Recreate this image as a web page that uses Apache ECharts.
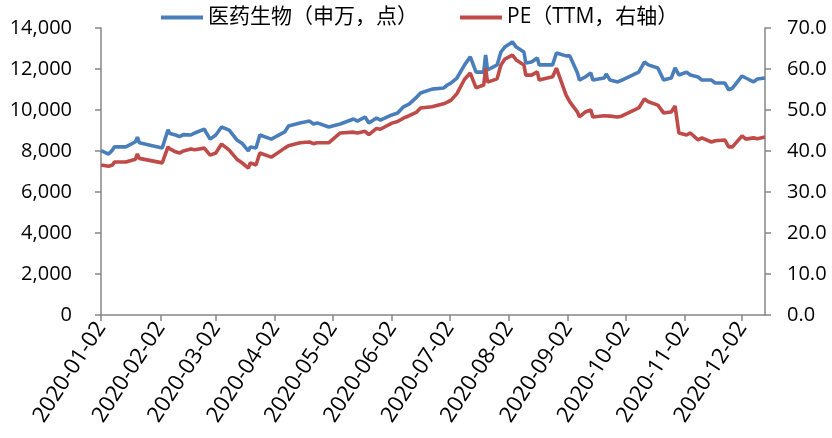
<!DOCTYPE html>
<html>
<head>
<meta charset="utf-8">
<script src="https://cdn.jsdelivr.net/npm/echarts@6/dist/echarts.min.js"></script>
<style>html,body{margin:0;padding:0;background:#fff;}#c{width:832px;height:438px;}</style>
</head>
<body>
<div id="c"></div>
<script>
const dates = ['2020-01-02','2020-01-06','2020-01-08','2020-01-09','2020-01-15','2020-01-20','2020-01-21','2020-01-22','2020-01-23','2020-02-03','2020-02-06','2020-02-07','2020-02-10','2020-02-12','2020-02-14','2020-02-18','2020-02-20','2020-02-25','2020-02-26','2020-02-28','2020-03-02','2020-03-05','2020-03-09','2020-03-13','2020-03-16','2020-03-19','2020-03-20','2020-03-23','2020-03-25','2020-03-31','2020-04-07','2020-04-09','2020-04-10','2020-04-15','2020-04-20','2020-04-22','2020-04-24','2020-04-30','2020-05-06','2020-05-13','2020-05-15','2020-05-19','2020-05-21','2020-05-25','2020-05-27','2020-06-02','2020-06-05','2020-06-08','2020-06-11','2020-06-15','2020-06-17','2020-06-23','2020-06-29','2020-07-01','2020-07-03','2020-07-06','2020-07-10','2020-07-13','2020-07-14','2020-07-16','2020-07-20','2020-07-21','2020-07-22','2020-07-27','2020-07-29','2020-07-31','2020-08-04','2020-08-06','2020-08-10','2020-08-11','2020-08-14','2020-08-17','2020-08-18','2020-08-25','2020-08-27','2020-08-28','2020-09-01','2020-09-03','2020-09-07','2020-09-08','2020-09-11','2020-09-14','2020-09-15','2020-09-21','2020-09-22','2020-09-24','2020-09-28','2020-09-30','2020-10-09','2020-10-12','2020-10-14','2020-10-19','2020-10-22','2020-10-26','2020-10-28','2020-10-30','2020-11-03','2020-11-05','2020-11-09','2020-11-11','2020-11-16','2020-11-18','2020-11-23','2020-11-25','2020-11-27','2020-12-02','2020-12-04','2020-12-08','2020-12-10','2020-12-14'];

const indexValues = [8020,7850,8050,8200,8200,8450,8680,8400,8350,8150,9030,8850,8780,8700,8800,8780,8880,9070,8900,8580,8780,9170,9020,8540,8350,8000,8200,8150,8780,8580,8930,9220,9220,9370,9460,9320,9370,9170,9320,9560,9460,9660,9370,9610,9510,9760,9850,10150,10290,10630,10830,11020,11070,11220,11320,11560,12200,12590,12590,11850,11850,12680,11950,12200,12830,13070,13320,13070,12830,12290,12340,12540,12200,12200,12780,12700,12640,12640,11800,11460,11610,11800,11460,11560,11760,11460,11370,11450,11850,12340,12200,12050,11460,11560,12050,11710,11850,11710,11610,11460,11460,11320,11320,10980,11070,11660,11560,11370,11510,11560];

const peValues = [36.6,36.3,36.6,37.3,37.3,38.0,39.3,38.2,38.0,37.1,41.0,40.5,39.8,39.5,40.0,40.5,40.3,40.7,40.3,39.0,39.5,41.7,40.2,38.0,37.0,35.8,37.1,36.6,39.5,38.5,40.7,41.3,41.0,42.0,42.2,41.8,42.0,42.0,44.4,44.6,44.4,44.8,44.0,45.5,45.3,46.8,47.2,48.0,48.6,49.5,50.5,50.8,51.5,51.9,52.4,54.0,57.5,59.0,59.0,55.4,56.1,60.2,56.8,57.6,61.0,62.4,63.4,62.2,61.0,58.5,58.5,59.3,57.3,58.1,60.2,60.2,53.7,52.0,49.5,48.3,49.5,50.0,48.3,48.6,49.0,48.5,48.3,48.5,50.5,52.7,52.0,51.2,49.3,49.5,51.0,44.4,43.9,44.4,42.7,43.2,42.2,42.5,42.7,41.0,41.0,43.7,42.9,43.2,43.0,43.4];

const tickLabels = ['2020-01-02','2020-02-02','2020-03-02','2020-04-02','2020-05-02','2020-06-02','2020-07-02','2020-08-02','2020-09-02','2020-10-02','2020-11-02','2020-12-02'];

const seriesNames = ['医药生物（申万，点）', 'PE（TTM，右轴）'];

// calendar-day category axis from first to last date
const axisDays = [];
(function () {
  const pad = n => (n < 10 ? '0' : '') + n;
  let d = new Date(Date.UTC(2020, 0, 2));
  const end = new Date(Date.UTC(2020, 11, 14));
  while (d <= end) {
    axisDays.push(d.getUTCFullYear() + '-' + pad(d.getUTCMonth() + 1) + '-' + pad(d.getUTCDate()));
    d = new Date(d.getTime() + 86400000);
  }
})();
const dayIndex = {};
axisDays.forEach((s, i) => { dayIndex[s] = i; });
const tickSet = new Set(tickLabels);

const font = '"Open Sans", "Noto Sans CJK SC", sans-serif';
const axisColor = '#868686';
const chart = echarts.init(document.getElementById('c'), null, { renderer: 'canvas' });
chart.setOption({
  animation: false,
  backgroundColor: '#fff',
  textStyle: { fontFamily: font },
  grid: { left: 101, right: 67, top: 28, bottom: 123, outerBoundsMode: 'none' },
  legend: [
    { data: [seriesNames[0]], left: 161, top: 7, padding: 0, icon: 'rect', itemWidth: 42, itemHeight: 4,
      textStyle: { fontSize: 21, color: '#000', fontFamily: font } },
    { data: [seriesNames[1]], left: 460, top: 7, padding: 0, icon: 'rect', itemWidth: 42, itemHeight: 4,
      textStyle: { fontSize: 21, color: '#000', fontFamily: font } }
  ],
  xAxis: {
    type: 'category',
    data: axisDays,
    boundaryGap: false,
    axisLine: { lineStyle: { color: axisColor, width: 1.5 } },
    axisTick: { show: true, length: 6, lineStyle: { color: axisColor, width: 1.5 },
      interval: (i, v) => tickSet.has(v) },
    axisLabel: { interval: (i, v) => tickSet.has(v), rotate: 57, margin: 9,
      fontSize: 22, color: '#000', fontFamily: font },
    splitLine: { show: false }
  },
  yAxis: [
    { type: 'value', min: 0, max: 14000, interval: 2000, position: 'left',
      axisLine: { show: true, lineStyle: { color: axisColor, width: 1.5 } },
      axisTick: { show: true, length: 6, lineStyle: { color: axisColor, width: 1.5 } },
      axisLabel: { margin: 29, fontSize: 20, color: '#000', fontFamily: font,
        formatter: v => v.toLocaleString('en-US') },
      splitLine: { show: false } },
    { type: 'value', min: 0, max: 70, interval: 10, position: 'right',
      axisLine: { show: true, lineStyle: { color: axisColor, width: 1.5 } },
      axisTick: { show: true, length: 6, lineStyle: { color: axisColor, width: 1.5 } },
      axisLabel: { margin: 22, fontSize: 20, color: '#000', fontFamily: font,
        formatter: v => v.toFixed(1) },
      splitLine: { show: false } }
  ],
  series: [
    { name: seriesNames[0], type: 'line', yAxisIndex: 0, showSymbol: false, connectNulls: true,
      lineStyle: { color: '#4A7EBB', width: 3.6 }, itemStyle: { color: '#4A7EBB' },
      data: dates.map((d, i) => [dayIndex[d], indexValues[i]]) },
    { name: seriesNames[1], type: 'line', yAxisIndex: 1, showSymbol: false, connectNulls: true,
      lineStyle: { color: '#BE4B48', width: 3.6 }, itemStyle: { color: '#BE4B48' },
      data: dates.map((d, i) => [dayIndex[d], peValues[i]]) }
  ]
});
</script>
</body>
</html>
